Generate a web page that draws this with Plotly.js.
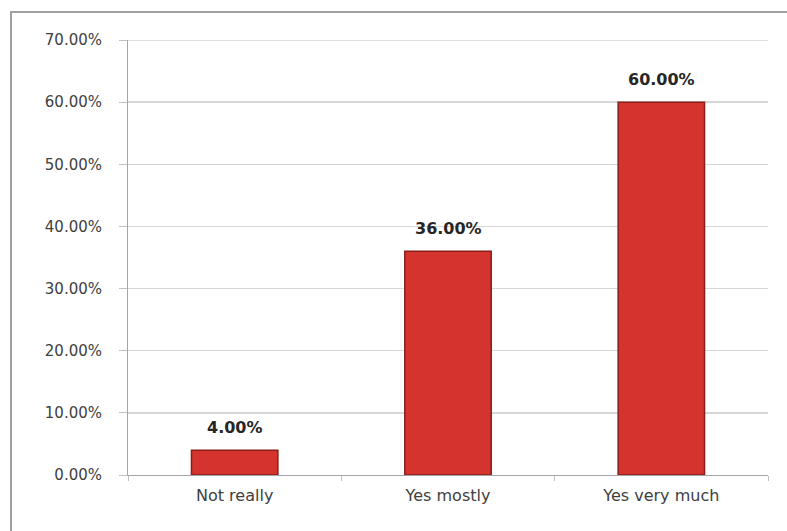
<!DOCTYPE html>
<html>
<head>
<meta charset="utf-8">
<script src="https://cdn.plot.ly/plotly-3.0.1.min.js"></script>
<style>
  html, body { margin: 0; padding: 0; background: #ffffff; }
  #wrap { position: relative; width: 787px; height: 531px; overflow: hidden; }
  #frame {
    position: absolute; left: 10px; top: 11px; right: -4px; bottom: -4px;
    border-top: 2px solid #a0a0a0; border-left: 2px solid #a0a0a0;
  }
  #chart { position: absolute; left: 0; top: 0; width: 787px; height: 531px; }
</style>
</head>
<body>
<div id="wrap">
  <div id="frame"></div>
  <div id="chart"></div>
</div>
<script>
// Survey answers and their share of respondents (percent)
const categories = ['Not really', 'Yes mostly', 'Yes very much'];
const shares = [4, 36, 60];
const yTicks = [0, 10, 20, 30, 40, 50, 60, 70];

const barTrace = {
  type: 'bar',
  x: categories,
  y: shares,
  width: 0.405,
  marker: {
    color: '#d4332e',
    line: { color: '#8a1d1b', width: 1.5 }
  },
  hoverinfo: 'skip'
};

// Value labels above each bar
const valueLabels = categories.map((c, i) => ({
  x: c,
  y: shares[i],
  xref: 'x',
  yref: 'y',
  text: shares[i].toFixed(2) + '%',
  showarrow: false,
  yanchor: 'bottom',
  yshift: 11,
  font: { family: 'DejaVu Sans', size: 16, color: '#262626', weight: 'bold' }
}));

// Top gridline at the 70% mark (the range edge)
const topGrid = {
  type: 'line',
  xref: 'paper', yref: 'y',
  x0: 0, x1: 1, y0: yTicks[yTicks.length - 1], y1: yTicks[yTicks.length - 1],
  line: { color: '#d6d6d6', width: 1.5 },
  layer: 'below'
};

const layout = {
  width: 787,
  height: 531,
  margin: { l: 128, r: 19, t: 40, b: 56 },
  paper_bgcolor: 'rgba(0,0,0,0)',
  plot_bgcolor: 'rgba(0,0,0,0)',
  showlegend: false,
  xaxis: {
    type: 'category',
    showline: true,
    linecolor: '#a6a6a6',
    linewidth: 1,
    ticks: 'outside',
    ticklen: 5,
    tickcolor: '#c0c0c0',
    tickson: 'boundaries',
    tickfont: { family: 'DejaVu Sans', size: 16, color: '#404040' },
    ticklabelstandoff: 6,
    showgrid: false,
    fixedrange: true
  },
  yaxis: {
    range: [0, 70],
    tickvals: yTicks,
    ticktext: yTicks.map(v => v.toFixed(2) + '%'),
    showline: true,
    linecolor: '#a6a6a6',
    linewidth: 1,
    ticks: 'outside',
    ticklen: 8,
    tickcolor: '#c0c0c0',
    showgrid: true,
    gridcolor: '#d6d6d6',
    gridwidth: 1.5,
    zeroline: false,
    tickfont: { family: 'DejaVu Sans', size: 15, color: '#404040' },
    ticklabelstandoff: 14,
    fixedrange: true
  },
  shapes: [topGrid],
  annotations: valueLabels
};

Plotly.newPlot('chart', [barTrace], layout, { displayModeBar: false, staticPlot: true });
</script>
</body>
</html>
